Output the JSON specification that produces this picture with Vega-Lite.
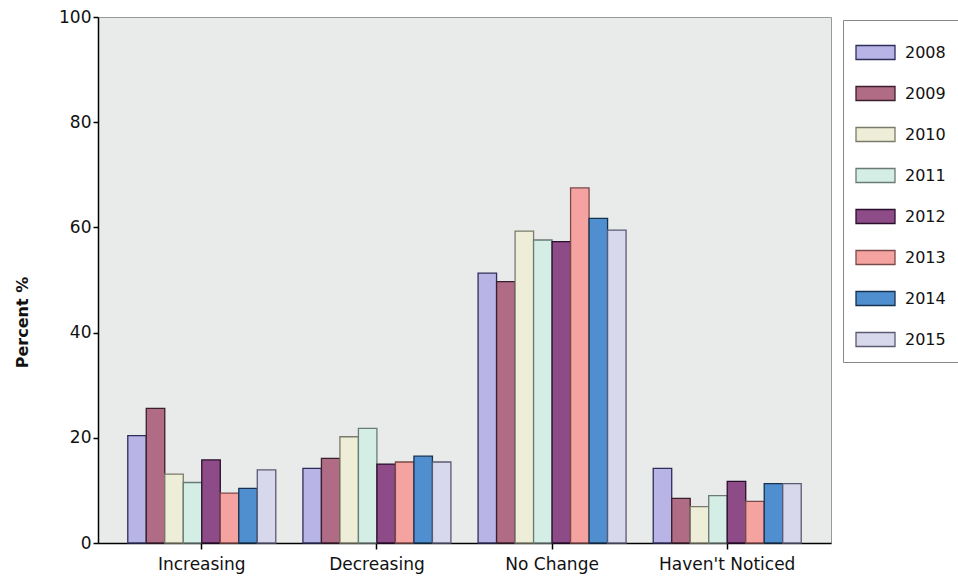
{
  "$schema": "https://vega.github.io/schema/vega-lite/v6.json",
  "width": 733,
  "height": 526,
  "autosize": "none",
  "padding": {"left": 98, "top": 17, "right": 127, "bottom": 37},
  "background": "#ffffff",
  "config": {
    "view": {"fill": "#e9ebeb", "stroke": "#999999", "strokeWidth": 1},
    "font": "DejaVu Sans"
  },
  "data": {
    "values": [
      {"response": "Increasing", "year": "2008", "percent": 20.4},
      {"response": "Increasing", "year": "2009", "percent": 25.6},
      {"response": "Increasing", "year": "2010", "percent": 13.1},
      {"response": "Increasing", "year": "2011", "percent": 11.5},
      {"response": "Increasing", "year": "2012", "percent": 15.8},
      {"response": "Increasing", "year": "2013", "percent": 9.5},
      {"response": "Increasing", "year": "2014", "percent": 10.4},
      {"response": "Increasing", "year": "2015", "percent": 13.9},
      {"response": "Decreasing", "year": "2008", "percent": 14.2},
      {"response": "Decreasing", "year": "2009", "percent": 16.1},
      {"response": "Decreasing", "year": "2010", "percent": 20.2},
      {"response": "Decreasing", "year": "2011", "percent": 21.8},
      {"response": "Decreasing", "year": "2012", "percent": 15.0},
      {"response": "Decreasing", "year": "2013", "percent": 15.4},
      {"response": "Decreasing", "year": "2014", "percent": 16.5},
      {"response": "Decreasing", "year": "2015", "percent": 15.4},
      {"response": "No Change", "year": "2008", "percent": 51.3},
      {"response": "No Change", "year": "2009", "percent": 49.7},
      {"response": "No Change", "year": "2010", "percent": 59.3},
      {"response": "No Change", "year": "2011", "percent": 57.6},
      {"response": "No Change", "year": "2012", "percent": 57.3},
      {"response": "No Change", "year": "2013", "percent": 67.5},
      {"response": "No Change", "year": "2014", "percent": 61.7},
      {"response": "No Change", "year": "2015", "percent": 59.5},
      {"response": "Haven't Noticed", "year": "2008", "percent": 14.2},
      {"response": "Haven't Noticed", "year": "2009", "percent": 8.5},
      {"response": "Haven't Noticed", "year": "2010", "percent": 6.9},
      {"response": "Haven't Noticed", "year": "2011", "percent": 9.0},
      {"response": "Haven't Noticed", "year": "2012", "percent": 11.7},
      {"response": "Haven't Noticed", "year": "2013", "percent": 7.9},
      {"response": "Haven't Noticed", "year": "2014", "percent": 11.3},
      {"response": "Haven't Noticed", "year": "2015", "percent": 11.3}
    ]
  },
  "mark": {"type": "bar", "strokeWidth": 1.3, "fillOpacity": 1},
  "encoding": {
    "x": {
      "field": "response",
      "type": "nominal",
      "sort": ["Increasing", "Decreasing", "No Change", "Haven't Noticed"],
      "scale": {"paddingInner": 0.155, "paddingOuter": 0.17},
      "axis": {
        "title": null,
        "labelAngle": 0,
        "labelFontSize": 17,
        "labelColor": "#111111",
        "labelPadding": 7,
        "domainColor": "#000000",
        "domainWidth": 1.5,
        "tickColor": "#000000",
        "tickSize": 6,
        "tickWidth": 1.5
      }
    },
    "xOffset": {
      "field": "year",
      "type": "nominal",
      "scale": {"paddingInner": 0, "paddingOuter": 0}
    },
    "y": {
      "field": "percent",
      "type": "quantitative",
      "scale": {"domain": [0, 100], "nice": false},
      "axis": {
        "title": "Percent %",
        "titleFontSize": 16,
        "titleFontWeight": "bold",
        "titleColor": "#111111",
        "titlePadding": 28,
        "titleY": 305,
        "values": [0, 20, 40, 60, 80, 100],
        "grid": false,
        "labelFontSize": 17,
        "labelColor": "#111111",
        "domainColor": "#000000",
        "domainWidth": 1.5,
        "tickColor": "#000000",
        "tickSize": 5,
        "tickWidth": 1.5
      }
    },
    "fill": {
      "field": "year",
      "type": "nominal",
      "scale": {
        "domain": ["2008", "2009", "2010", "2011", "2012", "2013", "2014", "2015"],
        "range": ["#b9b4e6", "#b06b85", "#eeeed8", "#d4eee6", "#8d4b87", "#f5a3a0", "#4f8fd0", "#d8d8ec"]
      },
      "legend": {
        "title": null,
        "orient": "none",
        "legendX": 745,
        "legendY": 3,
        "direction": "vertical",
        "strokeColor": "#888888",
        "fillColor": "#ffffff",
        "padding": 12,
        "symbolType": "M-1,-0.36H1V0.36H-1Z",
        "symbolSize": 1521,
        "symbolStrokeColor": "#444444",
        "symbolStrokeWidth": 1.3,
        "symbolOpacity": 1,
        "labelFontSize": 16,
        "labelColor": "#111111",
        "labelOffset": 9,
        "rowPadding": 10
      }
    },
    "stroke": {
      "field": "year",
      "type": "nominal",
      "scale": {
        "domain": ["2008", "2009", "2010", "2011", "2012", "2013", "2014", "2015"],
        "range": ["#2e2e5a", "#3a1f2c", "#7a7a6a", "#6a7a74", "#2a0f2c", "#7a4a4a", "#16324e", "#5a5a72"]
      },
      "legend": null
    }
  }
}
